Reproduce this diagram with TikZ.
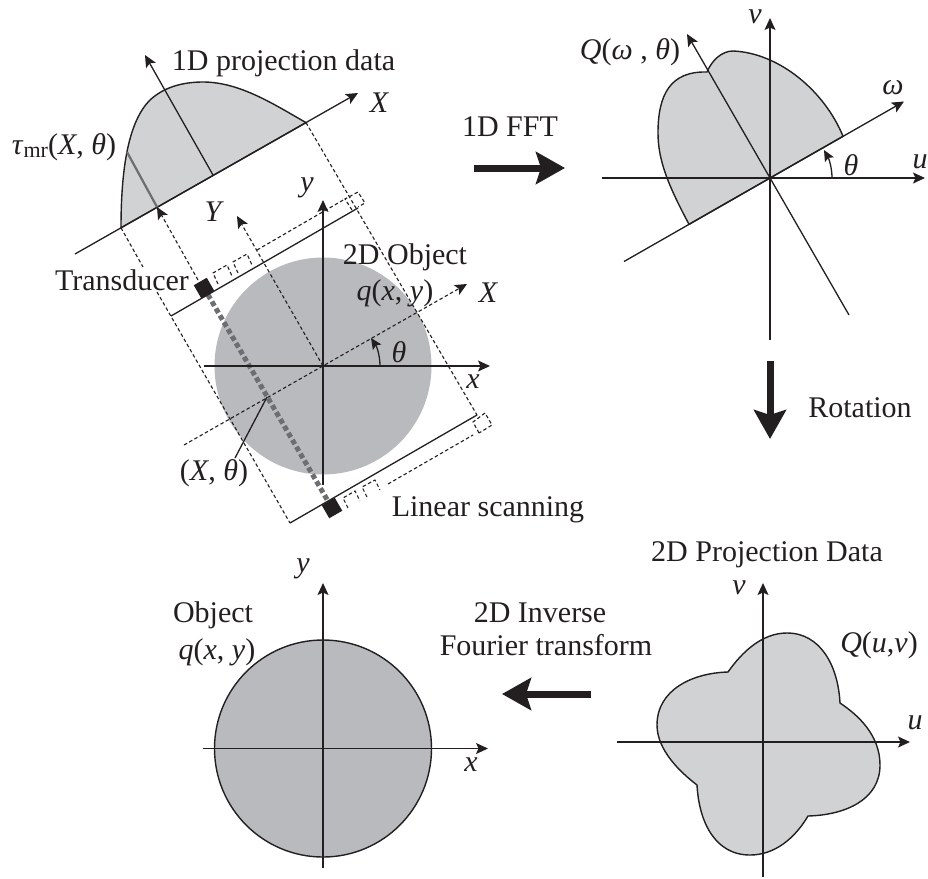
\documentclass[tikz,border=0pt]{standalone}
\usepackage{fontspec}
\setmainfont{Liberation Serif}
\usepackage{tikz}
\usetikzlibrary{arrows.meta, calc}
\definecolor{ObjectGray}{HTML}{B9BABE}
\definecolor{DataGray}{HTML}{D0D2D4}
\definecolor{LineBlack}{HTML}{231F20}
\definecolor{ScanGray}{HTML}{6D6E71}
\tikzset{
    % Line styles
    axisline/.style={
        -{Stealth[length=12pt,width=11pt,inset=2.5pt]},
        draw=LineBlack,
        line width=1.3pt
    },
    plainline/.style={
        draw=LineBlack,
        line width=1.3pt
    },
    dashline/.style={
        draw=LineBlack,
        line width=1.1pt,
        dash pattern=on 3.5pt off 2.5pt
    },
    dasharrow/.style={
        dashline,
        -{Stealth[length=12pt,width=11pt,inset=2.5pt]}
    },
    curveline/.style={
        draw=LineBlack,
        line width=1.4pt,
        fill=DataGray
    },
    bigarrow/.style={
        -{Stealth[length=29pt,width=32pt,inset=5pt]},
        draw=LineBlack,
        line width=7pt
    },
    anglearrow/.style={
        -{Stealth[length=11pt,width=10pt,inset=2pt]},
        draw=LineBlack,
        line width=1.3pt
    },
    transducer/.style={
        rectangle,
        draw=none,
        fill=LineBlack,
        minimum size=15pt,
        inner sep=0pt,
        rotate=30
    },
    % Text styles
    lab/.style={
        inner sep=0pt,
        text=LineBlack,
        font=\fontsize{30}{33}\selectfont
    },
    sym/.style={
        lab,
        font=\fontsize{30}{33}\selectfont\itshape
    }
}
\begin{document}
\begin{tikzpicture}[x=1pt,y=-1pt]
    \useasboundingbox (0,0) rectangle (928,878);

    % 2D object
    \coordinate (o) at (323,366);
    \fill[ObjectGray] (o) circle (108.5);

    % 1D projection data
    \coordinate (xs) at (75,254);
    \coordinate (xe) at (358,93);
    \coordinate (xa) at (121,227.8);
    \coordinate (xb) at (306,122.6);
    \coordinate (ya) at (213,175);
    \coordinate (yb) at (145,55);
    \coordinate (ga) at (127,152);
    \coordinate (gb) at (157,207);
    \path[curveline] (xa) .. controls (121,170) and (128,122) .. (150,100)
        .. controls (164,87) and (183,82) .. (203,82)
        .. controls (240,82) and (275,105) .. (xb) -- cycle;
    \draw[axisline] (xs) -- (xe);
    \draw[axisline] (ya) -- (yb);
    \draw[draw=ScanGray,line width=2.2pt] (ga) -- (gb);

    % scanning frame
    \coordinate (tl) at (171,316);
    \coordinate (tr) at (358,208);
    \coordinate (bl) at (290,523);
    \coordinate (br) at (477,415);
    \coordinate (ga1) at (143,267);
    \coordinate (ga2) at (157,292);
    \node[transducer] (ttop) at (204,288) {};
    \node[transducer] (tbot) at (332,508) {};
    \draw[draw=ScanGray,line width=5pt,dash pattern=on 5pt off 3pt] (ttop) -- (tbot);
    \draw[plainline] (tl) -- (tr);
    \draw[plainline] (bl) -- (br);
    \draw[dashline] (xa) -- (ga1);
    \draw[dashline] (ga2) -- (bl);
    \draw[dashline] (xb) -- (br);

    % dotted boxes along the top line
    \draw[dashline] (218,284) -- (213,273) -- (227,265) -- (232,276);
    \draw[dashline] (238,273) -- (233,262) -- (247,254) -- (252,265);
    \draw[dashline] (257,250) -- (345,199);
    \draw[dashline] (352,210) -- (345,199) -- (358,192) -- (365,203) -- (358,207);
    % dotted boxes along the bottom line
    \draw[dashline] (348,508) -- (343,498) -- (355,491) -- (360,501);
    \draw[dashline] (367,497) -- (362,487) -- (375,480) -- (380,490);
    \draw[dashline] (388,484) -- (473,435);
    \draw[dashline] (479,433) -- (473,422) -- (485,413) -- (492,425) -- (479,433);

    % object axes
    \coordinate (xl) at (204,366);
    \coordinate (xr) at (490,366);
    \coordinate (yd) at (323,485);
    \coordinate (yu) at (323,200);
    \draw[axisline] (xl) -- (xr);
    \draw[axisline] (yd) -- (yu);
    \coordinate (dxs) at (184,445);
    \coordinate (dxe) at (467,284);
    \draw[dasharrow] (dxs) -- (dxe);
    \coordinate (dye) at (237,216);
    \draw[dasharrow] (o) -- (dye);
    \coordinate (dpa) at (198,280);
    \draw[dasharrow] (dpa) -- (gb);
    \draw[anglearrow] (380,366) .. controls (380,356) and (377,347) .. (371,338);
    \coordinate (pa) at (267,397);
    \coordinate (pb) at (235,458);
    \draw[plainline] (pa) -- (pb);

    % spectrum
    \coordinate (oq) at (770,178);
    \coordinate (uql) at (602,178);
    \coordinate (uqr) at (925,178);
    \coordinate (vqd) at (770,340);
    \coordinate (vqu) at (770,18);
    \coordinate (wqs) at (624,261.5);
    \coordinate (wqe) at (904,101.5);
    \coordinate (lqs) at (849,315);
    \coordinate (lqe) at (687,34);
    \path[curveline] (689,224.3) .. controls (668,185) and (658,160) .. (658,133)
        .. controls (658,95) and (670,71) .. (707,72)
        .. controls (712,60) and (722,51) .. (733,51)
        .. controls (780,53) and (825,92) .. (843,136.3) -- (oq) -- cycle;
    \draw[axisline] (uql) -- (uqr);
    \draw[axisline] (vqd) -- (vqu);
    \draw[axisline] (wqs) -- (wqe);
    \draw[axisline] (lqs) -- (lqe);
    \draw[anglearrow] (832,178) .. controls (832,168) and (829,159) .. (824,150);

    % 2D projection data
    \coordinate (op) at (763,742);
    \coordinate (upl) at (617,742);
    \coordinate (upr) at (910,742);
    \coordinate (vpd) at (763,877);
    \coordinate (vpu) at (763,583);
    \path[curveline] (728,672) .. controls (742,652) and (762,633) .. (787,633)
        .. controls (820,633) and (838,665) .. (840,703)
        .. controls (858,715) and (880,735) .. (880,765)
        .. controls (880,800) and (845,815) .. (808,816)
        .. controls (795,838) and (775,855) .. (750,855)
        .. controls (715,855) and (699,822) .. (697,785)
        .. controls (680,772) and (657,750) .. (657,725)
        .. controls (657,690) and (692,673) .. (728,672) -- cycle;
    \draw[axisline] (upl) -- (upr);
    \draw[axisline] (vpd) -- (vpu);

    % recovered object
    \coordinate (of) at (323,748.5);
    \path[curveline,fill=ObjectGray] (of) circle (108.5);
    \coordinate (xfl) at (203,748.5);
    \coordinate (xfr) at (488,748.5);
    \coordinate (yfd) at (323,868);
    \coordinate (yfu) at (323,583);
    \draw[axisline] (xfl) -- (xfr);
    \draw[axisline] (yfd) -- (yfu);

    % process arrows
    \coordinate (fa) at (474,168);
    \coordinate (fb) at (565,168);
    \draw[bigarrow] (fa) -- (fb);
    \coordinate (ra) at (770,361);
    \coordinate (rb) at (770,439);
    \draw[bigarrow] (ra) -- (rb);
    \coordinate (ia) at (591,694);
    \coordinate (ib) at (502,694);
    \draw[bigarrow] (ia) -- (ib);

    % labels
    \node[lab] (ltitle) at (283.5,63) {1D projection data};
    \node[sym] (lx) at (379,103) {X};
    \node[lab] (ltau) at (64,147) {\textit{τ}\raisebox{-3pt}{\fontsize{22}{22}\selectfont mr}(\textit{X}, \textit{θ})};
    \node[sym] (lyy) at (213,212) {Y};
    \node[sym] (ly) at (307,188) {y};
    \node[lab] (ltrans) at (122,280) {Transducer};
    \node[lab] (lobj) at (405,257) {2D Object};
    \node[lab] (lq) at (395,293) {\textit{q}(\textit{x}, \textit{y})};
    \node[sym] (ldx) at (488,293) {X};
    \node[sym] (lth) at (399,352) {θ};
    \node[sym] (lxx) at (473,382) {x};
    \node[lab] (lpt) at (214,473) {(\textit{X}, \textit{θ})};
    \node[lab] (lscan) at (488,510) {Linear scanning};
    \node[lab] (lfft) at (510,127) {1D FFT};
    \node[lab] (lqw) at (630,52) {\textit{Q}(\textit{ω} , \textit{θ})};
    \node[sym] (lv) at (755,17) {v};
    \node[sym] (lw) at (893,88) {ω};
    \node[sym] (lthq) at (851,165) {θ};
    \node[sym] (lu) at (920,162) {u};
    \node[lab] (lrot) at (860,408) {Rotation};
    \node[lab] (lpd) at (767,555) {2D Projection Data};
    \node[sym] (lvp) at (739,588) {v};
    \node[lab] (lqp) at (879,645) {\textit{Q}(\textit{u},\textit{v})};
    \node[sym] (lup) at (915,723) {u};
    \node[lab] (linv) at (540,613) {2D Inverse};
    \node[lab] (lfour) at (546,645) {Fourier transform};
    \node[lab] (lobjf) at (213,615) {Object};
    \node[lab] (lqf) at (217,652) {\textit{q}(\textit{x}, \textit{y})};
    \node[sym] (lyf) at (303,569) {y};
    \node[sym] (lxf) at (471,765) {x};
\end{tikzpicture}
\end{document}
